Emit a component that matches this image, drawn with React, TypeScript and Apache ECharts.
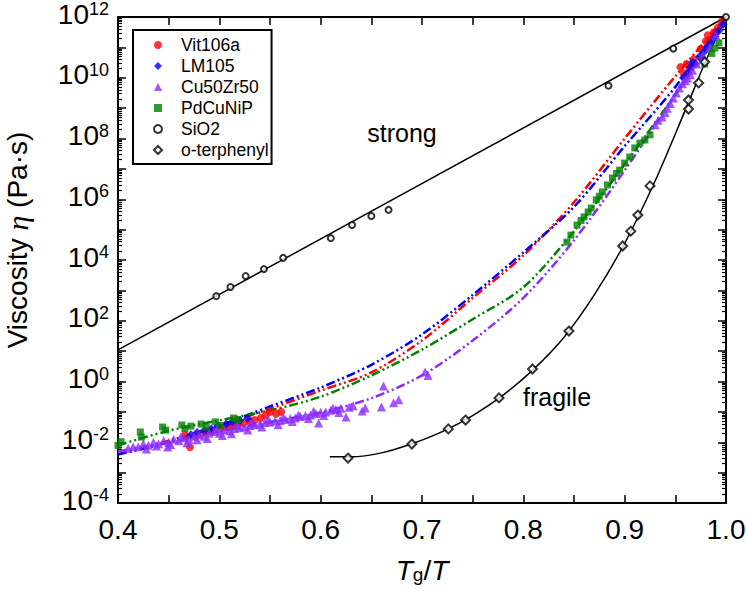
import React, { useEffect, useRef } from 'react';
import * as echarts from 'echarts';

const FONT = 'Arial, "Liberation Sans", Helvetica, sans-serif';

// ---------- axis ticks ----------
const yLabelExponents = [-4, -2, 0, 2, 4, 6, 8, 10, 12];
const yDecades = [-4, -3, -2, -1, 0, 1, 2, 3, 4, 5, 6, 7, 8, 9, 10, 11];
const yMinorFactors = [2, 3, 4, 5, 6, 7, 8, 9];

// ---------- data: [Tg/T, log10(viscosity / Pa·s)] ----------
const vit106a: [number, number][] = [
  [0.466, -1.76], [0.471, -2.16], [0.476, -1.8], [0.482, -1.72], [0.487, -1.66], [0.494, -1.62],
  [0.502, -1.53], [0.508, -1.5], [0.514, -1.43], [0.519, -1.4], [0.524, -1.37], [0.53, -1.33],
  [0.535, -1.27], [0.541, -1.2], [0.546, -1.1], [0.55, -1.0], [0.556, -1.06], [0.561, -1.0],
  [0.955, 10.35], [0.958, 10.15], [0.961, 10.45], [0.964, 10.3], [0.968, 10.6], [0.975, 10.95],
  [0.98, 11.2], [0.982, 11.4], [0.984, 11.24], [0.988, 11.5], [0.992, 11.65], [0.996, 11.85],
];
const lm105: [number, number][] = [
  [0.472, -1.75], [0.478, -1.68], [0.485, -1.62], [0.492, -1.56], [0.499, -1.45], [0.507, -1.4],
  [0.513, -1.33], [0.52, -1.28], [0.528, -1.22],
  [0.958, 10.0], [0.962, 10.15], [0.965, 10.35], [0.967, 10.5], [0.97, 10.45], [0.974, 10.7],
  [0.978, 10.85], [0.981, 11.0], [0.985, 11.15], [0.989, 11.35], [0.993, 11.55], [0.997, 11.75],
];
const cu50zr50: [number, number][] = [
  [0.41, -2.2], [0.415, -2.15], [0.42, -2.15], [0.425, -2.05], [0.43, -2.1], [0.435, -2.0],
  [0.44, -2.05], [0.445, -1.95], [0.449, -2.16], [0.45, -2.0], [0.455, -1.9], [0.46, -1.95],
  [0.465, -1.85], [0.47, -1.9], [0.475, -1.8], [0.48, -1.75], [0.485, -1.8], [0.49, -1.7],
  [0.495, -1.65], [0.5, -1.7], [0.505, -1.6], [0.51, -1.62], [0.515, -1.55], [0.52, -1.52],
  [0.525, -1.5], [0.53, -1.45], [0.535, -1.42], [0.54, -1.4], [0.545, -1.35], [0.55, -1.33],
  [0.555, -1.3], [0.56, -1.28], [0.565, -1.25], [0.57, -1.22], [0.575, -1.2], [0.58, -1.15],
  [0.585, -1.12], [0.59, -1.1], [0.595, -1.05], [0.598, -1.37], [0.6, -1.02], [0.605, -1.0],
  [0.61, -0.95], [0.615, -0.92], [0.62, -0.88], [0.625, -1.17], [0.628, -0.85], [0.632, -0.8],
  [0.428, -2.22], [0.438, -2.12], [0.452, -2.08], [0.462, -1.82], [0.468, -2.02], [0.478, -1.92],
  [0.488, -1.88], [0.498, -1.55], [0.503, -1.78], [0.512, -1.72], [0.518, -1.45], [0.528, -1.6],
  [0.533, -1.35], [0.542, -1.5], [0.548, -1.25], [0.558, -1.42], [0.563, -1.18], [0.572, -1.32],
  [0.578, -1.1], [0.588, -1.22], [0.593, -0.98], [0.603, -1.12], [0.612, -0.88], [0.618, -1.02],
  [0.641, -0.97], [0.644, -0.87], [0.66, -0.84], [0.662, -0.15], [0.672, -0.7], [0.677, -0.6],
  [0.703, 0.31], [0.706, 0.2],
  [0.93, 8.45], [0.933, 8.6], [0.937, 8.71], [0.94, 8.85], [0.942, 9.0], [0.945, 9.15],
  [0.948, 9.33], [0.951, 9.5], [0.954, 9.66], [0.957, 9.8], [0.96, 9.9], [0.962, 9.99],
  [0.965, 10.1], [0.967, 10.25], [0.971, 10.45], [0.977, 10.75], [0.984, 11.0], [0.99, 11.4],
];
const pdCuNiP: [number, number][] = [
  [0.4, -2.1], [0.403, -1.98], [0.422, -1.66], [0.423, -1.83], [0.444, -1.5], [0.447, -1.6],
  [0.463, -1.43], [0.466, -1.55], [0.472, -1.47], [0.482, -1.4], [0.487, -1.5], [0.496, -1.33],
  [0.501, -1.45], [0.514, -1.2], [0.518, -1.27],
  [0.843, 4.59], [0.847, 4.82], [0.853, 5.15], [0.857, 5.3], [0.86, 5.42], [0.864, 5.58],
  [0.867, 5.71], [0.872, 5.98], [0.875, 6.1], [0.878, 6.24], [0.883, 6.47], [0.888, 6.7],
  [0.892, 6.85], [0.895, 6.96], [0.9, 7.19], [0.905, 7.39], [0.91, 7.69], [0.915, 7.85],
  [0.92, 7.95], [0.925, 8.12], [0.979, 10.45], [0.986, 10.8], [0.989, 10.98], [0.993, 11.15],
];
const sio2: [number, number][] = [
  [0.497, 2.81], [0.511, 3.11], [0.526, 3.47], [0.544, 3.7], [0.563, 4.07], [0.61, 4.72],
  [0.631, 5.15], [0.65, 5.45], [0.667, 5.65], [0.884, 9.74], [0.948, 10.96], [1.0, 12.0],
];
const oTerphenyl: [number, number][] = [
  [0.627, -2.52], [0.69, -2.06], [0.726, -1.56], [0.743, -1.27], [0.776, -0.54], [0.809, 0.41],
  [0.845, 1.66], [0.898, 4.46], [0.906, 4.95], [0.913, 5.48], [0.925, 6.44], [0.963, 8.97],
  [0.963, 9.27], [0.973, 9.83], [0.979, 10.52],
];

// ---------- fitted curves ----------
const fitX = [0.4, 0.45, 0.5, 0.55, 0.6, 0.65, 0.7, 0.75, 0.8, 0.85, 0.9, 0.95, 1.0];
const fitVit106a = [-2.4, -1.95, -1.45, -0.9, -0.3, 0.3, 1.35, 2.75, 4.15, 5.9, 8.0, 10.05, 12.0];
const fitLM105 = [-2.4, -2.0, -1.45, -0.82, -0.2, 0.55, 1.55, 2.85, 4.25, 5.75, 7.75, 9.7, 12.0];
const fitCu50Zr50 = [-2.3, -2.0, -1.65, -1.33, -1.02, -0.55, 0.2, 1.35, 2.75, 4.65, 6.95, 9.45, 12.0];
const fitPdCuNiP = [-2.1, -1.62, -1.28, -0.95, -0.5, 0.2, 1.05, 2.05, 3.1, 4.95, 7.15, 9.45, 11.9];
const strongLine: [number, number][] = [[0.4, 1.04], [1.0, 12.0]];
const fragileLine: [number, number][] = [
  [0.609, -2.48], [0.63, -2.48], [0.66, -2.35], [0.69, -2.05], [0.72, -1.65], [0.75, -1.12],
  [0.78, -0.45], [0.81, 0.4], [0.84, 1.45], [0.87, 2.85], [0.9, 4.55], [0.93, 6.6],
  [0.96, 8.95], [0.98, 10.55], [1.0, 12.0],
];

const RED = '#ff0000';
const BLUE = '#0000ff';
const PURPLE = '#8b2cff';
const GREEN = '#008000';

const pair = (ys: number[]) => fitX.map((x, i) => [x, ys[i]]);

function buildOption(): echarts.EChartsCoreOption {
  const minorTicks: number[] = [];
  yDecades.forEach((d) => yMinorFactors.forEach((f) => minorTicks.push(d + Math.log10(f))));

  const axisLineStyle = { color: '#000', width: 2 };
  const tickStyle = { color: '#000', width: 1.5 };

  const fitLine = (name: string, color: string, ys: number[]) => ({
    type: 'line',
    name,
    data: pair(ys),
    showSymbol: false,
    symbol: 'none',
    smooth: 0.3,
    z: 2,
    lineStyle: { color, width: 2.5, type: [9, 3, 2, 3, 2, 3] },
  });

  const scatter = (name: string, data: [number, number][], symbol: string, size: number, color: string, extra: any = {}) => ({
    type: 'scatter',
    name,
    data,
    symbol,
    symbolSize: size,
    z: 5,
    itemStyle: { color, ...extra },
  });

  const legendNames = ['Vit106a', 'LM105', 'Cu50Zr50', 'PdCuNiP', 'SiO2', 'o-terphenyl'];
  const legendIcons = ['circle', 'diamond', 'triangle', 'rect', 'emptyCircle', 'emptyDiamond'];

  return {
    animation: false,
    backgroundColor: '#fff',
    grid: { left: 118, top: 17, width: 608, height: 486, containLabel: false, outerBoundsMode: 'none' },
    legend: {
      orient: 'vertical',
      left: 133,
      top: 30,
      padding: [6, 3, 5, 20],
      itemGap: 3,
      itemWidth: 8,
      itemHeight: 8,
      borderColor: '#000',
      borderWidth: 2,
      selectedMode: false,
      textStyle: { fontFamily: FONT, fontSize: 17.5, color: '#000', padding: [0, 0, 0, 14] },
      data: legendNames.map((name, i) => ({ name, icon: legendIcons[i] })),
    },
    xAxis: [
      {
        type: 'value',
        position: 'bottom',
        min: 0.4,
        max: 1.0,
        interval: 0.1,
        axisLine: { onZero: false, lineStyle: axisLineStyle },
        axisTick: { inside: true, length: 8, lineStyle: tickStyle },
        minorTick: { show: true, splitNumber: 2, length: 8, lineStyle: tickStyle },
        splitLine: { show: false },
        axisLabel: {
          margin: 12,
          fontFamily: FONT,
          fontSize: 28,
          color: '#000',
          formatter: (v: number) => v.toFixed(1),
        },
      },
      {
        type: 'value',
        position: 'top',
        min: 0.4,
        max: 1.0,
        interval: 0.1,
        axisLine: { onZero: false, lineStyle: axisLineStyle },
        axisTick: { inside: true, length: 8, lineStyle: tickStyle },
        minorTick: { show: true, splitNumber: 2, length: 8, lineStyle: tickStyle },
        splitLine: { show: false },
        axisLabel: { show: false },
      },
    ],
    yAxis: [
      {
        type: 'value',
        position: 'left',
        min: -4,
        max: 12,
        interval: 1,
        axisLine: { onZero: false, lineStyle: axisLineStyle },
        axisTick: { inside: true, length: 8, lineStyle: tickStyle },
        splitLine: { show: false },
        axisLabel: {
          margin: 9,
          padding: [0, 0, 6, 0],
          formatter: (v: number) => {
            const n = Math.round(v);
            return yLabelExponents.indexOf(n) >= 0 ? `{b|10}{s|${n}}` : '';
          },
          rich: {
            b: { fontFamily: FONT, fontSize: 28, lineHeight: 28, color: '#000', verticalAlign: 'bottom' },
            s: { fontFamily: FONT, fontSize: 18, lineHeight: 18, color: '#000', verticalAlign: 'top', padding: [0, 0, 16, 0] },
          },
        },
      },
      {
        type: 'value',
        position: 'right',
        min: -4,
        max: 12,
        interval: 1,
        axisLine: { onZero: false, lineStyle: axisLineStyle },
        axisTick: { inside: true, length: 8, lineStyle: tickStyle },
        splitLine: { show: false },
        axisLabel: { show: false },
      },
      {
        type: 'value',
        position: 'left',
        min: -4,
        max: 12,
        axisLine: { show: false, onZero: false },
        axisTick: { show: true, inside: true, length: 4, customValues: minorTicks, lineStyle: { color: '#000', width: 1.2 } },
        splitLine: { show: false },
        axisLabel: { show: false },
      },
      {
        type: 'value',
        position: 'right',
        min: -4,
        max: 12,
        axisLine: { show: false, onZero: false },
        axisTick: { show: true, inside: true, length: 4, customValues: minorTicks, lineStyle: { color: '#000', width: 1.2 } },
        splitLine: { show: false },
        axisLabel: { show: false },
      },
    ],
    graphic: [
      {
        type: 'text',
        x: 17,
        y: 240,
        rotation: Math.PI / 2,
        style: {
          text: '{n|Viscosity }{e|η}{n| (Pa·s)}',
          align: 'center',
          verticalAlign: 'middle',
          fill: '#000',
          rich: {
            n: { fontFamily: FONT, fontSize: 28, color: '#000' },
            e: { fontFamily: '"Liberation Serif", "Times New Roman", serif', fontStyle: 'italic', fontSize: 30, color: '#000' },
          },
        },
      },
      {
        type: 'text',
        x: 422,
        y: 570,
        style: {
          text: '{i|T}{g|g}{n|/}{i|T}',
          align: 'center',
          verticalAlign: 'middle',
          fill: '#000',
          rich: {
            i: { fontFamily: FONT, fontStyle: 'italic', fontSize: 28, lineHeight: 28, color: '#000', verticalAlign: 'top' },
            n: { fontFamily: FONT, fontSize: 28, lineHeight: 28, color: '#000', verticalAlign: 'top' },
            g: { fontFamily: FONT, fontSize: 19, lineHeight: 19, color: '#000', verticalAlign: 'bottom', padding: [12, 0, 0, 0] },
          },
        },
      },
      {
        type: 'text',
        x: 402,
        y: 133,
        style: { text: 'strong', fontFamily: FONT, fontSize: 25, fill: '#000', align: 'center', verticalAlign: 'middle' },
      },
      {
        type: 'text',
        x: 557,
        y: 397,
        style: { text: 'fragile', fontFamily: FONT, fontSize: 25, fill: '#000', align: 'center', verticalAlign: 'middle' },
      },
    ],
    series: [
      fitLine('Vit106a fit', RED, fitVit106a),
      fitLine('LM105 fit', BLUE, fitLM105),
      fitLine('PdCuNiP fit', GREEN, fitPdCuNiP),
      fitLine('Cu50Zr50 fit', PURPLE, fitCu50Zr50),
      {
        type: 'line',
        name: 'strong fit',
        data: strongLine,
        showSymbol: false,
        symbol: 'none',
        z: 2,
        lineStyle: { color: '#000', width: 1.5 },
      },
      {
        type: 'line',
        name: 'fragile fit',
        data: fragileLine,
        showSymbol: false,
        symbol: 'none',
        smooth: 0.3,
        z: 2,
        lineStyle: { color: '#000', width: 1.5 },
      },
      scatter('Vit106a', vit106a, 'circle', 8, RED),
      scatter('LM105', lm105, 'diamond', 9, BLUE),
      scatter('Cu50Zr50', cu50zr50, 'triangle', 9, PURPLE),
      scatter('PdCuNiP', pdCuNiP, 'rect', 7, GREEN),
      scatter('SiO2', sio2, 'emptyCircle', 6, '#000', { borderColor: '#000', borderWidth: 1.2 }),
      scatter('o-terphenyl', oTerphenyl, 'emptyDiamond', 9, '#000', { borderColor: '#000', borderWidth: 1.2 }),
    ],
  };
}

export default function App() {
  const ref = useRef<HTMLDivElement>(null);
  useEffect(() => {
    if (!ref.current) return;
    const chart = echarts.init(ref.current, undefined, { renderer: 'svg' });
    chart.setOption(buildOption());
    return () => chart.dispose();
  }, []);
  return (
    <div
      ref={ref}
      style={{ position: 'absolute', left: 0, top: 0, width: 746, height: 598, background: '#fff' }}
    />
  );
}
